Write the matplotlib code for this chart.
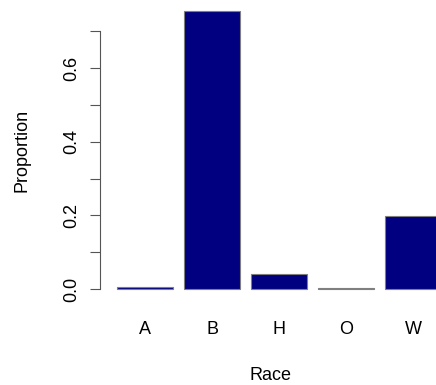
import numpy as np
import matplotlib
matplotlib.use('Agg')
import matplotlib.pyplot as plt

plt.rcParams['font.family'] = ['Liberation Sans', 'DejaVu Sans']

races = ['A', 'B', 'H', 'O', 'W']
proportions = [0.004, 0.755, 0.041, 0.002, 0.198]

W, H = 436, 385
fig = plt.figure(figsize=(W / 100, H / 100), dpi=100)

# R barplot layout: width 1, space 0.2
px_per_unit = 55.8
left_px, bottom_px, top_px = 100, 85, 385
xlim = (-0.11, 6.0)
ax = fig.add_axes([left_px / W, bottom_px / H,
                   (xlim[1] - xlim[0]) * px_per_unit / W, (top_px - bottom_px) / H])

x = 0.2 + 1.2 * np.arange(len(races)) + 0.5
ax.bar(x, proportions, width=1.0, color='#000080', edgecolor='#7f7f7f', linewidth=0.8)

ax.set_xlim(*xlim)
ax.set_ylim(-0.03, 0.785)

for s in ['top', 'right', 'bottom']:
    ax.spines[s].set_visible(False)
ax.spines['left'].set_bounds(0, 0.7)
ax.spines['left'].set_color('#555555')
ax.spines['left'].set_linewidth(0.8)

yt = np.arange(0, 0.71, 0.1)
ax.set_yticks(yt)
ax.set_yticklabels(['0.0', '', '0.2', '', '0.4', '', '0.6', ''], rotation=90, va='center')
ax.tick_params(axis='y', length=7, width=0.8, color='#555555', pad=7, labelsize=13)

ax.set_xticks(x)
ax.set_xticklabels(races)
ax.tick_params(axis='x', length=0, pad=15, labelsize=13)

ax.set_ylabel('Proportion', fontsize=13, labelpad=24)
ax.set_xlabel('Race', fontsize=13, labelpad=21)

fig.savefig('out.png', dpi=100, facecolor='white')
